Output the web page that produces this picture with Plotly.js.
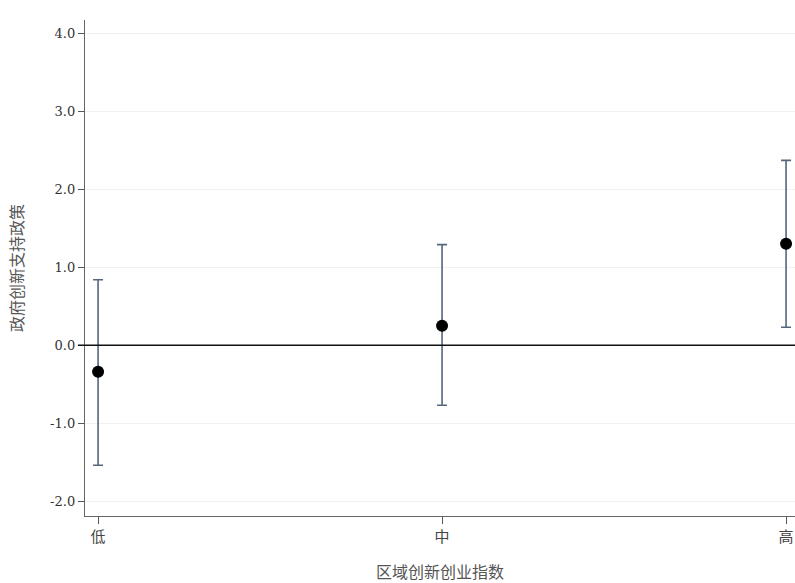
<!DOCTYPE html>
<html>
<head>
<meta charset="utf-8">
<script src="https://cdn.plot.ly/plotly-3.0.1.min.js"></script>
<style>html,body{margin:0;padding:0;background:#fff;}#chart{width:795px;height:583px;}</style>
</head>
<body>
<div id="chart"></div>
<script>
const categories = ['低', '中', '高'];
const estimates = [-0.34, 0.25, 1.30];
const upperCI = [0.84, 1.29, 2.37];
const lowerCI = [-1.54, -0.77, 0.23];
const yTickVals = [-2, -1, 0, 1, 2, 3, 4];
const yTickText = ['-2.0', '-1.0', '0.0', '1.0', '2.0', '3.0', '4.0'];

const trace = {
  type: 'scatter',
  mode: 'markers',
  x: categories,
  y: estimates,
  marker: {color: '#000000', size: 12},
  error_y: {
    type: 'data',
    symmetric: false,
    array: estimates.map((e, i) => upperCI[i] - e),
    arrayminus: estimates.map((e, i) => e - lowerCI[i]),
    color: '#56667a',
    thickness: 1.6,
    width: 5
  },
  showlegend: false,
  hoverinfo: 'skip'
};

const layout = {
  width: 795,
  height: 583,
  margin: {l: 85, r: 0, t: 20, b: 67},
  paper_bgcolor: '#ffffff',
  plot_bgcolor: '#ffffff',
  font: {family: 'DejaVu Serif, serif', color: '#333333'},
  xaxis: {
    type: 'category',
    range: [-0.038, 2.026],
    showline: true,
    linecolor: '#666666',
    linewidth: 1.2,
    showgrid: false,
    zeroline: false,
    ticks: 'outside',
    ticklen: 7,
    tickcolor: '#555555',
    tickfont: {family: 'Noto Sans CJK SC, sans-serif', size: 15, color: '#444444'},
    title: {text: '区域创新创业指数', font: {family: 'Noto Sans CJK SC, sans-serif', size: 16, color: '#555555'}, standoff: 22}
  },
  yaxis: {
    range: [-2.19, 4.17],
    tickvals: yTickVals,
    ticktext: yTickText,
    showline: true,
    linecolor: '#666666',
    linewidth: 1.2,
    showgrid: true,
    gridcolor: '#f1f1f1',
    gridwidth: 1,
    zeroline: false,
    ticks: 'outside',
    ticklen: 6,
    tickcolor: '#555555',
    tickfont: {family: 'DejaVu Serif, serif', size: 13, color: '#333333'},
    title: {text: '政府创新支持政策', font: {family: 'Noto Sans CJK SC, sans-serif', size: 16, color: '#555555'}, standoff: 22}
  },
  shapes: [{
    type: 'line', xref: 'paper', yref: 'y',
    x0: -0.01, x1: 1, y0: 0, y1: 0,
    line: {color: '#111111', width: 1.4},
    layer: 'above'
  }]
};

Plotly.newPlot('chart', [trace], layout, {displayModeBar: false, staticPlot: true});
</script>
</body>
</html>
